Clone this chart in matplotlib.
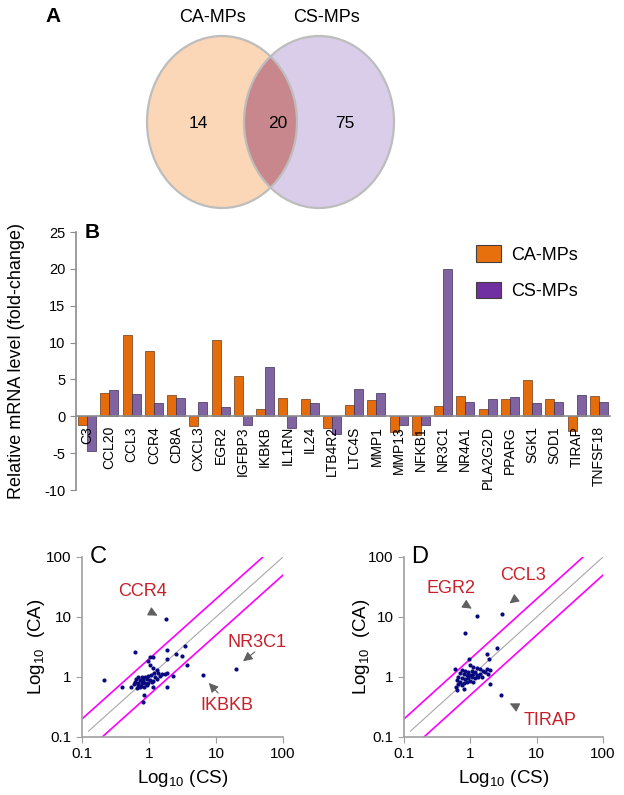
import numpy as np
import matplotlib
matplotlib.use("Agg")
from matplotlib import pyplot as plt
from matplotlib.patches import Ellipse, Patch

plt.rcParams['font.family'] = ['Liberation Sans', 'DejaVu Sans']
plt.rcParams['mathtext.fontset'] = 'custom'
plt.rcParams['mathtext.rm'] = 'Liberation Sans'
plt.rcParams['axes.unicode_minus'] = False

# --- data ---
venn_names = ['CA-MPs', 'CS-MPs']
venn_counts = [14, 20, 75]  # only CA, both, only CS

genes = ['C3', 'CCL20', 'CCL3', 'CCR4', 'CD8A', 'CXCL3', 'EGR2', 'IGFBP3', 'IKBKB',
         'IL1RN', 'IL24', 'LTB4R2', 'LTC4S', 'MMP1', 'MMP13', 'NFKB1', 'NR3C1',
         'NR4A1', 'PLA2G2D', 'PPARG', 'SGK1', 'SOD1', 'TIRAP', 'TNFSF18']
ca_fold = [-1.2, 3.2, 11.0, 8.8, 2.9, -1.3, 10.3, 5.5, 1.0, 2.5, 2.4, -1.6, 1.55,
           2.2, -2.1, -2.6, 1.4, 2.8, 1.0, 2.3, 4.95, 2.4, -2.0, 2.7]
cs_fold = [-4.7, 3.6, 3.0, 1.8, 2.5, 2.0, 1.3, -1.2, 6.7, -1.6, 1.8, -2.4, 3.7,
           3.2, -1.2, -1.2, 20.0, 1.9, 2.4, 2.6, 1.8, 1.9, 2.9, 1.9]

# panel C: (CS, CA)
c_cs = [1.80, 19.7, 6.5, 0.62, 1.86, 3.44, 2.53, 3.14, 1.86, 0.98, 1.03, 1.16, 3.66,
        1.03, 0.21, 0.40, 0.54, 1.86, 2.28, 0.85, 0.81, 1.86, 1.16,
        1.16, 1.30, 1.20, 1.38, 1.55, 1.73, 1.07, 0.98, 0.87, 0.78, 0.69, 0.65, 0.73,
        0.82, 0.92, 1.03, 1.16, 1.30, 0.62, 0.69, 0.78, 0.87, 0.98, 1.10, 0.60, 0.68,
        0.76, 0.85, 0.67, 0.74, 0.92, 1.23, 1.46]
c_ca = [9.2, 1.37, 1.07, 2.58, 2.82, 3.32, 2.39, 2.24, 2.02, 1.85, 2.13, 2.13, 1.57,
        1.58, 0.88, 0.67, 0.67, 0.67, 1.04, 0.50, 0.39, 1.15, 0.67,
        1.39, 1.31, 1.18, 1.15, 1.12, 1.12, 1.08, 1.04, 1.01, 0.99, 0.99, 0.91, 0.89,
        0.89, 0.91, 0.89, 0.87, 0.94, 0.84, 0.80, 0.78, 0.78, 0.80, 0.84, 0.76, 0.73,
        0.71, 0.69, 0.65, 0.67, 0.73, 1.01, 1.04]

# panel D: (CS, CA)
d_cs = [1.28, 3.0, 0.82, 2.5, 1.81, 1.91, 0.97, 0.58, 1.77, 1.98, 1.87, 1.98, 2.87,
        0.81, 0.62,
        0.99, 1.11, 1.25, 1.40, 1.57, 1.18, 1.05, 0.93, 0.83, 0.74, 0.70, 0.79, 0.88,
        0.99, 1.11, 1.25, 1.40, 0.66, 0.74, 0.83, 0.93, 1.05, 1.18, 1.32, 0.62, 0.70,
        0.79, 0.88, 0.99, 0.66, 0.74, 0.61, 1.11, 1.48, 1.66]
d_ca = [10.4, 11.2, 5.5, 3.0, 2.42, 1.97, 1.97, 1.36, 1.36, 1.31, 1.12, 0.75, 0.51,
        0.62, 0.61,
        1.58, 1.49, 1.39, 1.34, 1.27, 1.23, 1.27, 1.23, 1.27, 1.31, 1.18, 1.12, 1.08,
        1.08, 1.12, 1.08, 1.12, 1.01, 0.95, 0.91, 0.95, 0.99, 0.95, 0.99, 0.89, 0.84,
        0.80, 0.84, 0.87, 0.76, 0.73, 0.67, 0.84, 1.01, 1.23]

# threshold lines
diag_x = [0.125, 100]
up_x = [0.1, 50]
lo_x = [0.2, 100]

# annotations: label, text pos, arrow tail, arrow head
c_notes = [('CCR4', (0.81, 27), (0.93, 13.1), (1.46, 10.0)),
           ('NR3C1', (41, 3.8), (41, 2.8), (23.5, 1.71)),
           ('IKBKB', (14.6, 0.33), (11.5, 0.5), (7.3, 0.86))]
d_notes = [('EGR2', (0.52, 30), (0.78, 17), (1.14, 13)),
           ('CCL3', (6.2, 50), (5.2, 21.5), (3.6, 15.8)),
           ('TIRAP', (15.8, 0.19), (5.6, 0.30), (3.6, 0.38))]

W, H = 624, 795
fig = plt.figure(figsize=(W / 100, H / 100), dpi=100)

# --- A: venn ---
axv = fig.add_axes([0, 1 - 220 / H, 1, 220 / H])
axv.set_xlim(0, W)
axv.set_ylim(220, 0)
axv.axis('off')
e1 = Ellipse((222, 122), 150, 172, facecolor='#FBD6B7', edgecolor='none')
e2 = Ellipse((319, 122), 150, 172, facecolor='#DACDE9', edgecolor='none')
axv.add_patch(e1)
axv.add_patch(e2)
ov = Ellipse((222, 122), 150, 172, facecolor='#C8878C', edgecolor='none')
axv.add_patch(ov)
ov.set_clip_path(e2)
for c in [(222, 122), (319, 122)]:
    axv.add_patch(Ellipse(c, 150, 172, facecolor='none', edgecolor='#BDBDBD', lw=1.6))
axv.text(212, 18, venn_names[0], fontsize=13, ha='center', va='center')
axv.text(327, 18, venn_names[1], fontsize=13, ha='center', va='center')
for xx, n in zip([198, 278, 345], venn_counts):
    axv.text(xx, 124, str(n), fontsize=12.5, ha='center', va='center')
axv.text(45, 17, 'A', fontsize=15, fontweight='bold', ha='left', va='center')

# --- B: bars ---
axb = fig.add_axes([76 / W, 1 - 490 / H, (610 - 76) / W, (490 - 232) / H])
x = np.arange(len(genes))
bw = 0.4
axb.bar(x - bw / 2, ca_fold, bw, color='#E46C0A', edgecolor='#6b3a1a', lw=0.5)
axb.bar(x + bw / 2, cs_fold, bw, color='#8064A2', edgecolor='#3e2d55', lw=0.5)
axb.set_xlim(-0.5, len(genes) - 0.5)
axb.set_ylim(-10, 25)
axb.set_yticks(np.arange(-10, 26, 5))
axb.spines['top'].set_visible(False)
axb.spines['right'].set_visible(False)
axb.spines['bottom'].set_position(('data', 0))
for s in ['left', 'bottom']:
    axb.spines[s].set_color('#8c8c8c')
    axb.spines[s].set_linewidth(1.2)
axb.set_xticks(x)
axb.set_xticklabels(genes, rotation=90, va='top', fontsize=10)
axb.tick_params(axis='x', length=0, pad=7)
axb.tick_params(axis='y', labelsize=10.5, color='#8c8c8c', length=4, direction='out')
axb.set_ylabel('Relative mRNA level (fold-change)', fontsize=13)
axb.yaxis.set_label_coords(-0.096, 0.5)
handles = [Patch(facecolor='#E8700C', edgecolor='#404040', lw=0.8),
           Patch(facecolor='#7030A0', edgecolor='#404040', lw=0.8)]
axb.legend(handles, venn_names, loc='upper left', bbox_to_anchor=(467 / W, 1 - 236 / H),
           bbox_transform=fig.transFigure, frameon=False, fontsize=13, borderpad=0,
           handlelength=1.4, handleheight=1.05, labelspacing=1.0, handletextpad=0.55)
fig.text(85 / W, 1 - 233 / H, 'B', fontsize=15, fontweight='bold', ha='left', va='center')


# --- C, D: scatter ---
def scatter_panel(left, width, xs, ys, notes, letter, ylab_x):
    ax = fig.add_axes([left / W, 1 - 737 / H, width / W, 180 / H])
    ax.set_xscale('log')
    ax.set_yscale('log')
    ax.set_xlim(0.1, 100)
    ax.set_ylim(0.1, 100)
    ax.plot(diag_x, diag_x, color='#a8a8a8', lw=0.8)
    ax.plot(up_x, [2 * v for v in up_x], color='#FF00FF', lw=1.2)
    ax.plot(lo_x, [v / 2 for v in lo_x], color='#FF00FF', lw=1.2)
    ax.scatter(xs, ys, s=9, color='#0a0a80', zorder=3, lw=0)
    ticks = [0.1, 1, 10, 100]
    ax.set_xticks(ticks)
    ax.set_yticks(ticks)
    ax.set_xticklabels(['0.1', '1', '10', '100'])
    ax.set_yticklabels(['0.1', '1', '10', '100'])
    ax.minorticks_off()
    ax.spines['top'].set_visible(False)
    ax.spines['right'].set_visible(False)
    for s in ['left', 'bottom']:
        ax.spines[s].set_color('#a0a0a0')
        ax.spines[s].set_linewidth(1.2)
    ax.tick_params(labelsize=11, color='#a0a0a0', length=4)
    ax.set_xlabel(r'Log$_{\mathregular{10}}$ (CS)', fontsize=13.5)
    ax.set_ylabel(r'Log$_{\mathregular{10}}$  (CA)', fontsize=13.5)
    ax.xaxis.set_label_coords(0.5, -0.17)
    ax.yaxis.set_label_coords(ylab_x, 0.5)
    for lab, tp, tail, head in notes:
        ax.text(tp[0], tp[1], lab, color='#C8202A', fontsize=13, ha='center', va='center')
        ax.annotate('', xy=head, xytext=tail,
                    arrowprops=dict(arrowstyle='-|>', color='#606060', lw=0.8,
                                    mutation_scale=14))
    ax.text(0.13, 100, letter, fontsize=17, ha='left', va='center')
    return ax


scatter_panel(82, 201, c_cs, c_ca, c_notes, 'C', -0.174)
scatter_panel(404, 199, d_cs, d_ca, d_notes, 'D', -0.16)

plt.savefig('out.png', dpi=100)
